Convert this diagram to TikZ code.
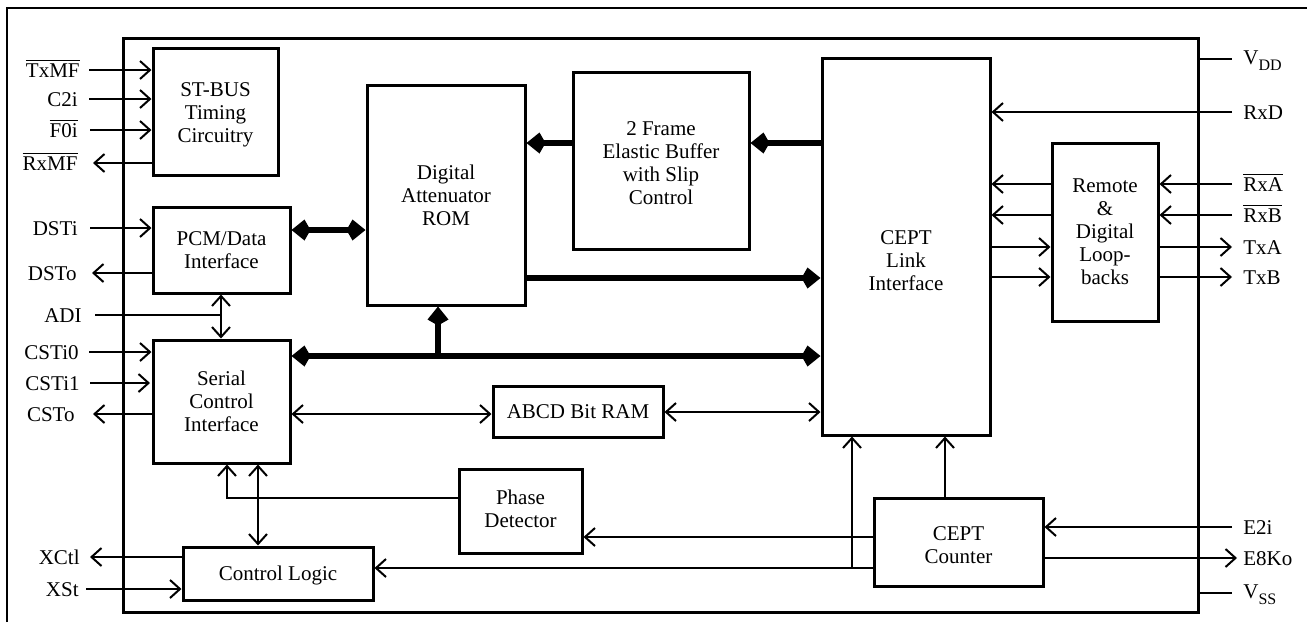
\documentclass[tikz,border=0pt]{standalone}
\usepackage{fontspec}
\setmainfont{Liberation Serif}
\usetikzlibrary{arrows.meta,fit}
\newcommand\dfont{\fontsize{10.5pt}{11.5pt}\selectfont}
\newcommand\ovl[1]{$\overline{\hbox{#1}}$}
\newcommand\subtx[1]{\raisebox{-3pt}{\fontsize{8pt}{8pt}\selectfont #1}}
\begin{document}
\begin{tikzpicture}[x=0.5pt,y=-0.5pt,font=\dfont,
  blk/.style={draw, line width=1.5pt, inner sep=0pt},
  txt/.style={align=center, inner sep=0pt, font=\dfont},
  lblL/.style={anchor=base east, inner sep=0pt},
  lblR/.style={anchor=base west, inner sep=0pt},
  sig/.style={line width=1pt},
  sarr/.style={sig,-{Straight Barb[length=5pt,width=9pt,line width=1pt]}},
  sarrb/.style={sig,{Straight Barb[length=5pt,width=9pt,line width=1pt]}-{Straight Barb[length=5pt,width=9pt,line width=1pt]}},
  sarrl/.style={sig,{Straight Barb[length=5pt,width=9pt,line width=1pt]}-},
  bus/.style={line width=3pt,-{Kite[length=9.5pt,width=10.5pt,inset=3pt]}},
  busb/.style={line width=3pt,{Kite[length=9.5pt,width=10.5pt,inset=3pt]}-{Kite[length=9.5pt,width=10.5pt,inset=3pt]}}]
\useasboundingbox (0,0) rectangle (1307,622);
% outer frame
\draw[line width=1pt] (7,622) -- (7,8) -- (1307,8);
% chip
\node[draw, line width=1.5pt, inner sep=0pt, fit={(123,38) (1198,612)}] (chip) {};
% blocks
\node[blk, fit={(153,48) (278,175)}, label={[txt,yshift=-1.5pt]center:{ST-BUS\\Timing\\Circuitry}}] (stbus) {};
\node[blk, fit={(153,207) (290,293)}, label={[txt]center:{PCM/Data\\Interface}}] (pcm) {};
\node[blk, fit={(153,340) (290,463)}, label={[txt]center:{Serial\\Control\\Interface}}] (sci) {};
\node[blk, fit={(183,547) (373,600)}, label={[txt,yshift=-1pt]center:{Control Logic}}] (ctrl) {};
\node[blk, fit={(367,85) (525,305)}, label={[txt]center:{Digital\\Attenuator\\ROM}}] (rom) {};
\node[blk, fit={(573,72) (749,249)}, label={[txt,yshift=-1.5pt]center:{2 Frame\\Elastic Buffer\\with Slip\\Control}}] (ebuf) {};
\node[blk, fit={(822,58) (990,435)}, label={[txt,yshift=-7pt]center:{CEPT\\Link\\Interface}}] (cept) {};
\node[blk, fit={(1052,143) (1158,321)}, label={[txt]center:{Remote\\\&\\Digital\\Loop-\\backs}}] (loop) {};
\node[blk, fit={(493,386) (663,437)}, label={[txt]center:{ABCD Bit RAM}}] (abcd) {};
\node[blk, fit={(459,469) (582,553)}, label={[txt,yshift=1pt]center:{Phase\\Detector}}] (phase) {};
\node[blk, fit={(874,498) (1043,586)}, label={[txt,yshift=-1.5pt]center:{CEPT\\Counter}}] (cnt) {};

% left labels and wire ends
\node[lblL] (lTxMF) at (80,77) {\ovl{TxMF}};
\node[lblL] (lC2i) at (78,106) {C2i};
\node[lblL] (lF0i) at (78,137) {\ovl{F0i}};
\node[lblL] (lRxMF) at (78,170) {\ovl{RxMF}};
\node[lblL] (lDSTi) at (78,235) {DSTi};
\node[lblL] (lDSTo) at (77,280) {DSTo};
\node[lblL] (lADI) at (82,322) {ADI};
\node[lblL] (lCSTi0) at (79,359) {CSTi0};
\node[lblL] (lCSTi1) at (80,390) {CSTi1};
\node[lblL] (lCSTo) at (75,421) {CSTo};
\node[lblL] (lXCtl) at (80,564) {XCtl};
\node[lblL] (lXSt) at (79,596) {XSt};
\coordinate (wTxMF) at (89,70);
\coordinate (wC2i) at (89,99);
\coordinate (wF0i) at (90,130);
\coordinate (wRxMF) at (93,163);
\coordinate (wDSTi) at (90,228);
\coordinate (wDSTo) at (92,273);
\coordinate (wADI) at (95,315);
\coordinate (jADI) at (221,315);
\coordinate (wCSTi0) at (89,352);
\coordinate (wCSTi1) at (90,383);
\coordinate (eCSTi1) at (150,383);
\coordinate (wCSTo) at (93,414);
\coordinate (wXCtl) at (90,557);
\coordinate (wXSt) at (86,589);

\draw[sarr] (wTxMF) -- (stbus.west |- wTxMF);
\draw[sarr] (wC2i) -- (stbus.west |- wC2i);
\draw[sarr] (wF0i) -- (stbus.west |- wF0i);
\draw[sarr] (stbus.west |- wRxMF) -- (wRxMF);
\draw[sarr] (wDSTi) -- (pcm.west |- wDSTi);
\draw[sarr] (pcm.west |- wDSTo) -- (wDSTo);
\draw[sig] (wADI) -- (jADI);
\draw[sarrb] (pcm.south -| jADI) -- (sci.north -| jADI);
\draw[sarr] (wCSTi0) -- (sci.west |- wCSTi0);
\draw[sarr] (wCSTi1) -- (eCSTi1);
\draw[sarr] (sci.west |- wCSTo) -- (wCSTo);
\draw[sarr] (ctrl.west |- wXCtl) -- (wXCtl);
\draw[sarr] (wXSt) -- (ctrl.west |- wXSt);

% right labels and wire ends
\node[lblR] (lVDD) at (1243,64) {V\subtx{DD}};
\node[lblR] (lRxD) at (1243,119) {RxD};
\node[lblR] (lRxA) at (1243,191) {\ovl{RxA}};
\node[lblR] (lRxB) at (1243,222) {\ovl{RxB}};
\node[lblR] (lTxA) at (1243,254) {TxA};
\node[lblR] (lTxB) at (1243,284) {TxB};
\node[lblR] (lE2i) at (1243,534) {E2i};
\node[lblR] (lE8Ko) at (1243,565) {E8Ko};
\node[lblR] (lVSS) at (1243,598) {V\subtx{SS}};
\coordinate (wVDD) at (1232,59);
\coordinate (wRxD) at (1232,112);
\coordinate (wRxA) at (1232,184);
\coordinate (wRxB) at (1232,215);
\coordinate (wTxA) at (1232,247);
\coordinate (wTxB) at (1232,277);
\coordinate (wE2i) at (1232,527);
\coordinate (wE8Ko) at (1237,558);
\coordinate (wVSS) at (1232,593);

\draw[sig] (chip.east |- wVDD) -- (wVDD);
\draw[sarr] (wRxD) -- (cept.east |- wRxD);
\draw[sarr] (wRxA) -- (loop.east |- wRxA);
\draw[sarr] (wRxB) -- (loop.east |- wRxB);
\draw[sarr] (loop.east |- wTxA) -- (wTxA);
\draw[sarr] (loop.east |- wTxB) -- (wTxB);
\draw[sarr] (loop.west |- wRxA) -- (cept.east |- wRxA);
\draw[sarr] (loop.west |- wRxB) -- (cept.east |- wRxB);
\draw[sarr] (cept.east |- wTxA) -- (loop.west |- wTxA);
\draw[sarr] (cept.east |- wTxB) -- (loop.west |- wTxB);
\draw[sarr] (wE2i) -- (cnt.east |- wE2i);
\draw[sarr] (cnt.east |- wE8Ko) -- (wE8Ko);
\draw[sig] (chip.east |- wVSS) -- (wVSS);

% buses
\draw[busb] (pcm.east |- 0,230) -- (rom.west |- 0,230);
\draw[bus] (ebuf.west |- 0,143) -- (rom.east |- 0,143);
\draw[bus] (cept.west |- 0,143) -- (ebuf.east |- 0,143);
\draw[bus] (rom.east |- 0,278) -- (cept.west |- 0,278);
\draw[busb] (sci.east |- 0,356) -- (cept.west |- 0,356);
\coordinate (jbus) at (438,356);
\draw[bus] (jbus) -- (rom.south -| jbus);

% thin internal
\draw[sarrb] (sci.east |- 0,414) -- (abcd.west |- 0,414);
\draw[sarrb] (abcd.east |- 0,412) -- (cept.west |- 0,412);
\coordinate (jsci) at (227,498);
\draw[sarrl] (sci.south -| jsci) -- (jsci) -- (phase.west |- jsci);
\coordinate (jctl) at (258,500);
\draw[sarrb] (sci.south -| jctl) -- (ctrl.north -| jctl);
\coordinate (jcnt) at (945,498);
\draw[sarr] (cnt.north -| jcnt) -- (cept.south -| jcnt);
\draw[sarr] (cnt.west |- 0,537) -- (phase.east |- 0,537);
\draw[sarr] (cnt.west |- 0,568) -- (ctrl.east |- 0,568);
\coordinate (jv) at (852,568);
\draw[sarr] (jv) -- (cept.south -| jv);
\end{tikzpicture}
\end{document}
